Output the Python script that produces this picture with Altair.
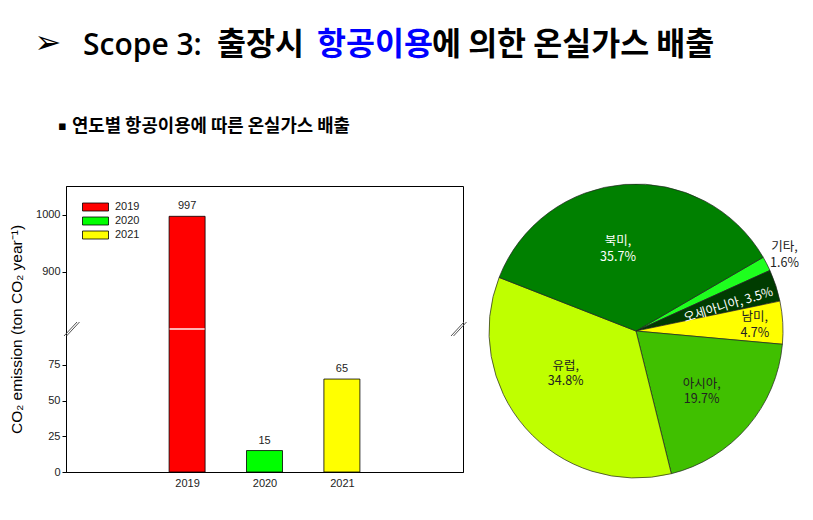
import math
import altair as alt
import pandas as pd

# ---------------- data ----------------
years = ["2019", "2020", "2021"]
emissions = [997, 15, 65]
year_colors = ["#FF0000", "#00FF00", "#FFFF00"]

regions = ["기타", "오세아니아", "남미", "아시아", "유럽", "북미"]
shares = [1.6, 3.5, 4.7, 19.7, 34.8, 35.7]
region_colors = ["#1EFF1E", "#003C00", "#FFFF00", "#40C000", "#BFFF00", "#008000"]

y_tick_values = [0, 25, 50, 75, 900, 1000]
y_title = "CO₂ emission (ton CO₂ year⁻¹)"

title_parts = ["Scope 3:", "출장시", "항공이용", "에 의한 온실가스 배출"]
subtitle = "연도별 항공이용에 따른 온실가스 배출"

# ---------------- layout / style ----------------
W, H = 397, 286
X_DOMAIN = [2017.5, 2022.5]
Y_DOMAIN = [0, 100, 800, 1050]
Y_RANGE = [H, H / 2, H / 2, 0]
BREAK_VALUE = 100
PIE_CX, PIE_CY, PIE_R = 570, 145, 147
PIE_START = math.radians(59.9)
LABEL_R = {"기타": 167, "오세아니아": 96, "남미": 119, "아시아": 89, "유럽": 82, "북미": 84}
LABEL_ADJ = {"기타": 0, "오세아니아": 2.3, "남미": 0.3, "아시아": 1.8, "유럽": 10.3, "북미": -8}
SINGLE_LINE = "오세아니아"
AXIS_FONT = "Liberation Sans"
KR_FONT = "Noto Sans CJK KR"


def lookup_expr(d, default=0):
    expr = str(default)
    for k, v in d.items():
        expr = f"(datum.region == '{k}' ? {v} : {expr})"
    return expr


bar_df = pd.DataFrame({"year": years, "yr": [int(y) for y in years], "value": emissions})
break_df = pd.DataFrame({"yr": X_DOMAIN, "value": [BREAK_VALUE, BREAK_VALUE]})
pie_df = pd.DataFrame({"region": regions, "share": shares, "ord": list(range(len(regions)))})

x_enc = alt.X(
    "yr:Q",
    scale=alt.Scale(domain=X_DOMAIN, nice=False, zero=False),
    axis=alt.Axis(values=[int(y) for y in years], format="d", title=None, ticks=False,
                  tickSize=0, labelPadding=5, labelFontSize=11, labelFont=AXIS_FONT,
                  labelColor="#222", domainColor="black"),
)
y_enc = alt.Y(
    "value:Q",
    scale=alt.Scale(domain=Y_DOMAIN, range=Y_RANGE, nice=False, zero=False),
    axis=alt.Axis(values=y_tick_values, format="d", title=y_title, titleX=-50, titleY=H / 2,
                  titleAngle=270, titleBaseline="middle", titleAlign="center",
                  titleFont=AXIS_FONT, titleFontSize=15.5, titleFontWeight="normal",
                  titleColor="black", labelFont=AXIS_FONT, labelFontSize=11,
                  labelColor="#222", tickSize=4, tickColor="black", labelPadding=2,
                  domainColor="black"),
)

bars = alt.Chart(bar_df).mark_bar(size=36, stroke="black", strokeWidth=0.8).encode(
    x=x_enc,
    y=y_enc,
    color=alt.Color(
        "year:N",
        scale=alt.Scale(domain=years, range=year_colors),
        legend=alt.Legend(
            title=None, orient="none", legendX=16, legendY=14, padding=0,
            symbolType="M-1,-0.3077L1,-0.3077L1,0.3077L-1,0.3077Z", symbolSize=676,
            symbolStrokeColor="black", symbolStrokeWidth=0.8, symbolOffset=0,
            clipHeight=14, rowPadding=0, labelOffset=6, labelFont=AXIS_FONT,
            labelFontSize=11, labelColor="#222",
        ),
    ),
)

value_labels = alt.Chart(bar_df).mark_text(
    baseline="bottom", dy=-5, font=AXIS_FONT, fontSize=11, color="#222"
).encode(x=x_enc, y=y_enc, text="value:Q")

break_line = alt.Chart(bar_df).transform_filter(
    f"datum.value > {BREAK_VALUE}"
).transform_calculate(value=str(BREAK_VALUE)).mark_tick(
    orient="horizontal", size=35, thickness=2, color="white"
).encode(x=x_enc, y=y_enc)

break_marks = [
    alt.Chart(break_df).mark_rule(
        color="#555", strokeWidth=1, xOffset=-7 + d, x2Offset=6 + d, yOffset=7, y2Offset=-7
    ).encode(x=x_enc, y=y_enc, x2=alt.X2("yr"), y2=alt.Y2("value"))
    for d in (0, 2.5)
]

pie_base = alt.Chart(pie_df).transform_window(
    cum="sum(share)", sort=[alt.SortField("ord")], frame=[None, 0]
).transform_joinaggregate(total="sum(share)").transform_calculate(
    a0=f"{PIE_START} + 2*PI*(datum.cum - datum.share)/datum.total",
    a1=f"{PIE_START} + 2*PI*datum.cum/datum.total",
)

arcs = pie_base.mark_arc(outerRadius=PIE_R, stroke="#222", strokeWidth=0.7).encode(
    x=alt.value(PIE_CX),
    y=alt.value(PIE_CY),
    theta=alt.Theta("a0:Q", scale=None, stack=False),
    theta2=alt.Theta2("a1"),
    color=alt.Color("region:N", scale=alt.Scale(domain=regions, range=region_colors), legend=None),
    order=alt.Order("ord:Q"),
)

label_base = pie_base.transform_calculate(
    lt=f"(datum.a0 + datum.a1)/2 + PI/180*{lookup_expr(LABEL_ADJ)}",
    lr=lookup_expr(LABEL_R, 90),
    label=f"datum.region + (datum.region == '{SINGLE_LINE}' ? ', ' : ',\\n') + format(datum.share, '.1f') + '%'",
)
label_enc = dict(
    x=alt.value(PIE_CX),
    y=alt.value(PIE_CY),
    theta=alt.Theta("lt:Q", scale=None, stack=False),
    radius=alt.Radius("lr:Q", scale=None),
    text="label:N",
    color=alt.condition("datum.region == '북미' || datum.region == '오세아니아'",
                        alt.value("white"), alt.value("#222")),
)
multi_labels = label_base.transform_filter(f"datum.region != '{SINGLE_LINE}'").mark_text(
    font=KR_FONT, fontSize=12.5, lineBreak="\n", lineHeight=15.5, align="center",
    baseline="middle", dy=-7.5
).encode(**label_enc)
single_label = label_base.transform_filter(f"datum.region == '{SINGLE_LINE}'").mark_text(
    font=KR_FONT, fontSize=12.5, align="center", baseline="middle", angle=343
).encode(**label_enc)


def header(txt, x, y, **kw):
    return alt.Chart(pd.DataFrame({"t": [txt]})).mark_text(**kw).encode(
        x=alt.value(x), y=alt.value(y), text="t:N"
    )


headers = [
    header("➢", -18, -143, align="center", baseline="middle", font="DejaVu Sans", fontSize=32, color="black"),
    header(title_parts[0], 17, -131, align="left", baseline="alphabetic", font="Open Sans", fontSize=30, fontWeight=600, color="black"),
    header(title_parts[1], 151, -131, align="left", baseline="alphabetic", font=KR_FONT, fontSize=31.5, fontWeight="bold", color="black"),
    header(title_parts[2], 251, -131, align="left", baseline="alphabetic", font=KR_FONT, fontSize=31.5, fontWeight="bold", color="#0000FF"),
    header(title_parts[3], 366, -131, align="left", baseline="alphabetic", font=KR_FONT, fontSize=31.5, fontWeight="bold", color="black"),
    header("▪", -3.5, -60, align="center", baseline="middle", font="DejaVu Sans", fontSize=13, color="black"),
    header(subtitle, 6, -54, align="left", baseline="alphabetic", font=KR_FONT, fontSize=17.8, fontWeight="bold", color="black"),
]

chart = alt.layer(
    bars, value_labels, break_line, *break_marks, arcs, multi_labels, single_label, *headers
).resolve_scale(color="independent").properties(
    width=W,
    height=H,
    autosize=alt.AutoSizeParams(type="none"),
    padding={"left": 58, "top": 178, "right": 340, "bottom": 30},
).configure_view(stroke="black", strokeWidth=1).configure_axis(grid=False)

chart.save("out.html", embed_options={"renderer": "svg", "actions": False})
